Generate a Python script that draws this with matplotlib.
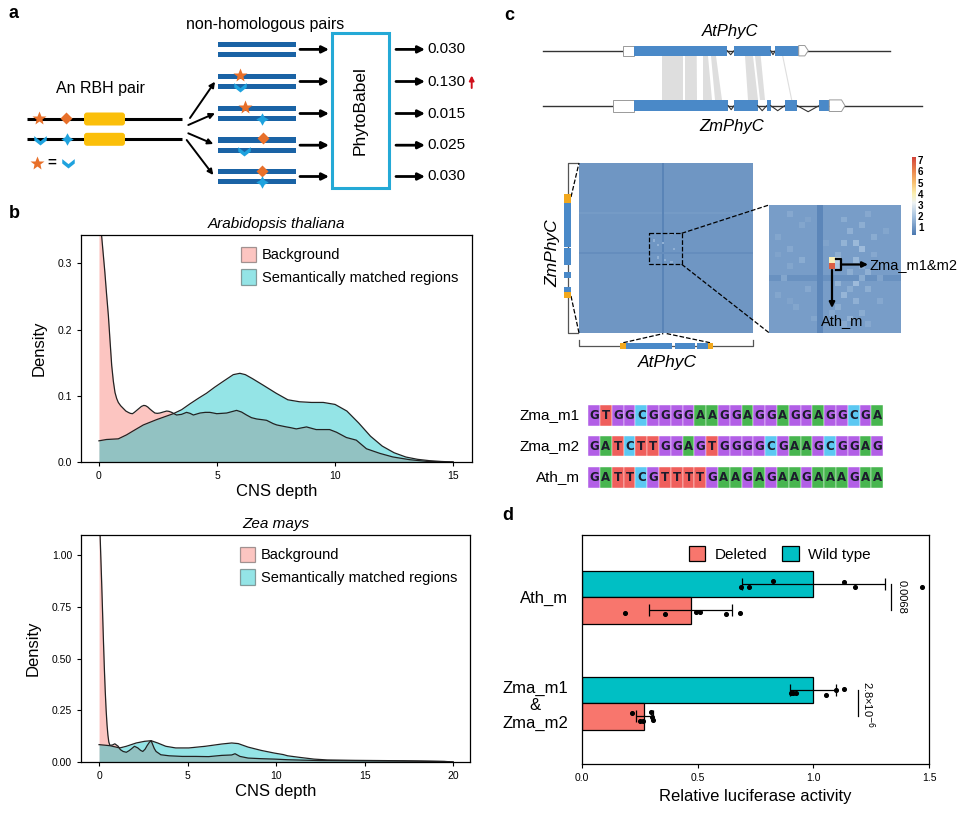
import numpy as np
import matplotlib.pyplot as plt
from matplotlib.patches import Rectangle, FancyBboxPatch, Polygon, Patch
from matplotlib.path import Path
from matplotlib.colors import LinearSegmentedColormap

plt.rcParams['font.family'] = ['Liberation Sans', 'DejaVu Sans']

# ---------------- data ----------------
# panel a: PhytoBabel scores of the five non-homologous pairs
pair_scores = ['0.030', '0.130', '0.015', '0.025', '0.030']

# panel b: density curves (Arabidopsis thaliana)
ath_bg_x = [0, 0.05, 0.11, 0.18, 0.25, 0.32, 0.4, 0.47, 0.54, 0.61, 0.68, 0.75, 0.82, 0.92,
            1.03, 1.14, 1.24, 1.33, 1.42, 1.5, 1.6, 1.7, 1.8, 1.9, 1.98, 2.07, 2.16, 2.26,
            2.37, 2.47, 2.58, 2.72, 2.87, 2.97, 3.08, 3.18, 3.29, 3.5, 3.71, 3.86, 4.0, 4.14,
            4.28, 4.5, 4.7, 4.85, 4.99, 5.2, 5.41, 5.62, 5.83, 6.04, 6.25, 6.46, 6.68, 6.9,
            7.1, 7.38, 7.53, 7.94, 8.1, 8.36, 8.79, 9.2, 9.77, 10.06, 10.48, 10.9, 11.33,
            11.9, 12.45, 13.16, 13.86, 14.7, 15.0]
ath_bg_y = [0.375, 0.36, 0.343, 0.315, 0.287, 0.255, 0.221, 0.183, 0.146, 0.122, 0.105, 0.096,
            0.090, 0.085, 0.081, 0.077, 0.075, 0.0735, 0.073, 0.075, 0.078, 0.081, 0.084,
            0.0855, 0.085, 0.083, 0.080, 0.077, 0.074, 0.0735, 0.074, 0.0755, 0.077, 0.0765,
            0.075, 0.073, 0.071, 0.072, 0.075, 0.0735, 0.071, 0.0725, 0.074, 0.075, 0.075,
            0.074, 0.073, 0.0735, 0.074, 0.076, 0.078, 0.0755, 0.071, 0.067, 0.065, 0.064,
            0.063, 0.058, 0.056, 0.053, 0.052, 0.050, 0.053, 0.049, 0.049, 0.045, 0.037,
            0.033, 0.020, 0.013, 0.0076, 0.0035, 0.001, 0.0, 0.0]
ath_sm_x = [0, 0.32, 0.82, 1.17, 1.45, 1.88, 2.44, 3.15, 3.5, 3.86, 4.2, 4.56, 4.9, 5.27, 5.69,
            5.97, 6.2, 6.5, 6.96, 7.5, 8.0, 8.5, 9.0, 9.5, 10.0, 10.5, 11.0, 11.5, 12.0, 12.5,
            13.0, 13.5, 14.0, 14.5, 15.0]
ath_sm_y = [0.032, 0.034, 0.035, 0.041, 0.047, 0.056, 0.064, 0.073, 0.079, 0.088, 0.096, 0.104,
            0.113, 0.122, 0.132, 0.134, 0.132, 0.126, 0.116, 0.104, 0.094, 0.091, 0.090, 0.090,
            0.087, 0.077, 0.059, 0.039, 0.024, 0.014, 0.0075, 0.004, 0.002, 0.0008, 0.0]

# panel b: Zea mays
zea_bg_x = [0, 0.05, 0.1, 0.15, 0.2, 0.25, 0.3, 0.35, 0.4, 0.45, 0.5, 0.55, 0.61, 0.75, 0.89,
            1.08, 1.2, 1.36, 1.54, 1.7, 1.82, 2.0, 2.19, 2.35, 2.47, 2.6, 2.72, 2.84, 2.94,
            3.03, 3.12, 3.22, 3.49, 3.96, 4.7, 5.45, 6.19, 6.93, 7.49, 7.68, 7.96, 8.42, 9.16,
            9.91, 10.65, 11.5, 12.5, 14.0, 16.0, 18.0, 19.5, 20.0]
zea_bg_y = [1.25, 1.12, 0.99, 0.86, 0.72, 0.58, 0.45, 0.34, 0.25, 0.18, 0.13, 0.097, 0.081,
            0.082, 0.088, 0.076, 0.060, 0.051, 0.047, 0.055, 0.063, 0.076, 0.068, 0.056, 0.051,
            0.062, 0.080, 0.095, 0.103, 0.084, 0.065, 0.051, 0.035, 0.030, 0.027, 0.027, 0.026,
            0.032, 0.034, 0.040, 0.027, 0.019, 0.016, 0.014, 0.011, 0.009, 0.007, 0.006, 0.005,
            0.004, 0.002, 0.0]
zea_sm_x = [0, 0.61, 1.17, 1.54, 2.1, 2.57, 2.94, 3.31, 3.77, 4.33, 5.07, 6.0, 6.93, 7.49,
            7.86, 8.42, 9.16, 9.91, 10.4, 10.65, 11.36, 12.14, 12.88, 14.4, 17.2, 19.5, 20.0]
zea_sm_y = [0.084, 0.079, 0.068, 0.076, 0.092, 0.100, 0.103, 0.092, 0.076, 0.068, 0.068, 0.076,
            0.087, 0.092, 0.089, 0.072, 0.056, 0.043, 0.036, 0.030, 0.022, 0.014, 0.010, 0.008,
            0.006, 0.003, 0.0]

# panel c: motif sequences
seq_names = ['Zma_m1', 'Zma_m2', 'Ath_m']
seqs = ['GTGGCGGGGAAGGAGGAGGAGGCGA',
        'GATCTTGGAGTGGGGCGAAGCGGAG',
        'GATTCGTTTTGAAGAGAAGAAAGAA']
base_colors = {'G': '#b25fe6', 'A': '#47b54f', 'T': '#ef5f5c', 'C': '#5cc8f2'}

# panel c: heatmap features (base level plus listed structure)
big_n = 80
big_base = 1.0
big_dark_cols = [38]
big_dark_rows = [42]
big_light_rows = [23]
big_light_cells = [(36, 34), (37, 38), (38, 36), (40, 43), (44, 36), (46, 42), (33, 42), (45, 39)]
zoom_n = 22
zoom_base = 1.15
zoom_dark_col = 8
zoom_dark_row = 12
zoom_light_cells = [(1, 3, 1.4), (2, 12, 1.5), (3, 5, 1.35), (3, 15, 1.55), (4, 13, 1.6),
                    (5, 1, 1.35), (5, 17, 1.5), (6, 12, 1.65), (6, 14, 1.8), (7, 3, 1.4),
                    (7, 15, 1.85), (8, 11, 1.55), (8, 17, 1.4), (9, 5, 1.5), (9, 14, 1.75),
                    (11, 13, 1.55), (11, 16, 1.6), (12, 2, 1.35), (12, 15, 1.5), (13, 11, 1.65),
                    (13, 14, 1.85), (14, 6, 1.4), (14, 16, 1.55), (15, 12, 1.7), (16, 14, 1.6),
                    (16, 18, 1.4), (17, 4, 1.35), (17, 11, 1.55), (18, 15, 1.5), (19, 7, 1.35),
                    (19, 13, 1.6), (20, 16, 1.4), (10, 3, 1.35), (4, 19, 1.35), (15, 1, 1.35),
                    (2, 6, 1.3), (6, 9, 1.3), (10, 15, 1.45), (14, 13, 1.5), (18, 10, 1.4),
                    (12, 18, 1.3), (16, 3, 1.3), (20, 12, 1.45), (1, 16, 1.4), (8, 1, 1.3)]
zoom_hot_cells = [(9, 10, 3.9), (10, 10, 6.8), (9, 11, 2.3), (10, 11, 2.1)]

# panel d: luciferase assay
groups = ['Zma_m1\n&\nZma_m2', 'Ath_m']
wt_mean = [1.0, 1.0]
wt_sd = [0.10, 0.31]
del_mean = [0.27, 0.47]
del_sd = [0.035, 0.18]
wt_pts = [[0.905, 0.912, 0.924, 1.056, 1.097, 1.133],
          [0.686, 0.722, 0.826, 1.133, 1.182, 1.468]]
wt_jit = [[-0.028, -0.028, -0.028, -0.047, 0.0, 0.003],
          [-0.033, -0.033, 0.024, 0.017, -0.033, -0.033]]
del_pts = [[0.218, 0.249, 0.262, 0.300, 0.304, 0.307],
           [0.186, 0.357, 0.491, 0.509, 0.624, 0.682]]
del_jit = [[0.027, -0.046, -0.046, 0.036, -0.002, -0.039],
           [-0.024, -0.033, -0.014, -0.014, -0.033, -0.024]]
p_values = ['2.8×10$^{-6}$', '0.0068']

PINK = '#F8766D'
CYAN = '#00BFC4'

W, H = 970, 815
fig = plt.figure(figsize=(9.7, 8.15), dpi=100)


def px_axes(l, t, r, b):
    return fig.add_axes([l / W, 1 - b / H, (r - l) / W, (b - t) / H])


def density_panel(ax, bx, by, sx, sy, title, xlim, ylim, xticks, yticks, ylabels):
    ax.fill_between(bx, by, color=PINK, alpha=0.42, lw=0)
    ax.plot(bx, by, color='#222222', lw=0.9)
    ax.fill_between(sx, sy, color=CYAN, alpha=0.42, lw=0)
    ax.plot(sx, sy, color='#222222', lw=0.9)
    ax.set_xlim(*xlim)
    ax.set_ylim(*ylim)
    ax.set_xticks(xticks)
    ax.set_yticks(yticks)
    ax.set_yticklabels(ylabels)
    ax.tick_params(direction='out', length=3, width=0.8, labelsize=7.5)
    for s in ax.spines.values():
        s.set_linewidth(0.9)
    ax.set_title(title, style='italic', fontsize=11, pad=5)
    ax.set_xlabel('CNS depth', fontsize=12, labelpad=2)
    ax.set_ylabel('Density', fontsize=12, labelpad=8)
    hs = [Patch(fc=PINK, alpha=0.42, ec='#222222', lw=0.9),
          Patch(fc=CYAN, alpha=0.42, ec='#222222', lw=0.9)]
    ax.legend(hs, ['Background', 'Semantically matched regions'], loc='upper left',
              bbox_to_anchor=(0.395, 0.975), frameon=False, fontsize=10.5,
              handlelength=1.0, handleheight=1.3, handletextpad=0.4, labelspacing=0.45,
              borderaxespad=0)


# ---------------- panel b ----------------
ax_b1 = px_axes(81, 235, 472, 462)
density_panel(ax_b1, ath_bg_x, ath_bg_y, ath_sm_x, ath_sm_y, 'Arabidopsis thaliana',
              (-0.76, 15.8), (0, 0.343), [0, 5, 10, 15], [0, 0.1, 0.2, 0.3],
              ['0.0', '0.1', '0.2', '0.3'])
ax_b2 = px_axes(81, 535, 470, 762)
density_panel(ax_b2, zea_bg_x, zea_bg_y, zea_sm_x, zea_sm_y, 'Zea mays',
              (-1.02, 20.95), (0, 1.098), [0, 5, 10, 15, 20], [0, 0.25, 0.5, 0.75, 1.0],
              ['0.00', '0.25', '0.50', '0.75', '1.00'])

# ---------------- panel d ----------------
ax_d = px_axes(582, 535, 929, 764)
ypos = np.arange(len(groups))
bh = 0.25
ax_d.barh(ypos + bh / 2, wt_mean, height=bh, color=CYAN, ec='black', lw=0.9)
ax_d.barh(ypos - bh / 2, del_mean, height=bh, color=PINK, ec='black', lw=0.9)
ax_d.errorbar(wt_mean, ypos + bh / 2, xerr=wt_sd, fmt='none', ecolor='black', elinewidth=0.9,
              capsize=4, capthick=0.9)
ax_d.errorbar(del_mean, ypos - bh / 2, xerr=del_sd, fmt='none', ecolor='black',
              elinewidth=0.9, capsize=4, capthick=0.9)
for i in range(len(groups)):
    ax_d.scatter(wt_pts[i], ypos[i] + bh / 2 + np.array(wt_jit[i]), s=7, color='black',
                 zorder=4)
    ax_d.scatter(del_pts[i], ypos[i] - bh / 2 + np.array(del_jit[i]), s=7, color='black',
                 zorder=4)
    xl = [1.193, 1.337][i]
    ax_d.plot([xl, xl], [ypos[i] - bh / 2, ypos[i] + bh / 2], color='black', lw=0.9)
    ax_d.text(xl + 0.043, ypos[i] - (0.02 if i == 0 else 0), p_values[i], rotation=-90,
              ha='center', va='center', fontsize=8)
ax_d.set_xlim(0, 1.5)
ax_d.set_ylim(-0.575, 1.585)
ax_d.set_xticks([0, 0.5, 1.0, 1.5])
ax_d.set_xticklabels(['0.0', '0.5', '1.0', '1.5'])
ax_d.set_yticks(ypos)
ax_d.set_yticklabels(groups)
for t in ax_d.get_yticklabels():
    t.set_multialignment('center')
ax_d.tick_params(axis='x', direction='out', length=3, width=0.8, labelsize=7.5)
ax_d.tick_params(axis='y', length=0, labelsize=12, pad=10)
for s in ax_d.spines.values():
    s.set_linewidth(0.9)
ax_d.set_xlabel('Relative luciferase activity', fontsize=12, labelpad=4)
ax_d.legend([Patch(fc=PINK, ec='black', lw=0.9), Patch(fc=CYAN, ec='black', lw=0.9)],
            ['Deleted', 'Wild type'], loc='upper center', bbox_to_anchor=(0.57, 0.99),
            ncol=2, frameon=False, fontsize=11, handlelength=1.1, handleheight=1.1,
            handletextpad=0.6, columnspacing=1.0, borderaxespad=0.2)

# ---------------- panel c heatmaps ----------------
cmap = LinearSegmentedColormap.from_list('motif', [
    (0.0, '#4a78b0'), (1.7 / 7, '#a7c3e0'), (2.9 / 7, '#eef2f2'), (3.7 / 7, '#fbf0b0'),
    (4.7 / 7, '#f8c070'), (5.7 / 7, '#ec8a50'), (1.0, '#d2443a')])
vmin, vmax = 0.3, 7.3

big = np.full((big_n, big_n), big_base)
for r in big_light_rows:
    big[r, :] = 1.1
for c in big_dark_cols:
    big[:, c] = 0.6
for r in big_dark_rows:
    big[r, :] = 0.8
for r, c in big_light_cells:
    big[r, c] = 1.6
ax_h1 = px_axes(579, 163, 753, 333)
ax_h1.imshow(big, cmap=cmap, vmin=vmin, vmax=vmax, aspect='auto', interpolation='nearest')
ax_h1.axis('off')

zm = np.full((zoom_n, zoom_n), zoom_base)
zm[zoom_dark_row, :] = 0.9
zm[:, zoom_dark_col] = 0.65
for r, c, v in zoom_light_cells + zoom_hot_cells:
    zm[r, c] = v
ax_h2 = px_axes(769, 205, 901, 333)
im = ax_h2.imshow(zm, cmap=cmap, vmin=vmin, vmax=vmax, aspect='auto', interpolation='nearest')
ax_h2.axis('off')

cax = px_axes(912, 157, 916, 235)
cb = fig.colorbar(im, cax=cax, ticks=[1, 2, 3, 4, 5, 6, 7])
cb.outline.set_visible(False)
cax.tick_params(length=0, labelsize=7, pad=1.5)
for t in cax.get_yticklabels():
    t.set_fontweight('bold')

# ---------------- overlay for diagrams ----------------
ov = fig.add_axes([0, 0, 1, 1], zorder=5)
ov.set_xlim(0, W)
ov.set_ylim(H, 0)
ov.axis('off')
ov.patch.set_alpha(0)

for lab, (x, y) in zip('abcd', [(14, 14), (14, 214), (509, 15), (508, 516)]):
    ov.text(x, y, lab, fontsize=13, fontweight='bold', ha='center', va='center')

ORANGE = '#e8702a'
SKY = '#1ea2de'
chev = Path([(-1, 0.7), (0, -0.1), (1, 0.7), (1, 0.0), (0, -0.8), (-1, 0.0), (-1, 0.7)],
            [Path.MOVETO] + [Path.LINETO] * 5 + [Path.CLOSEPOLY])


def sym(x, y, kind, size=1.0):
    if kind == 'star':
        ov.plot(x, y, marker='*', color=ORANGE, ms=10 * size, mec='none')
    elif kind == 'diamond':
        ov.plot(x, y, marker='D', color=ORANGE, ms=6.5 * size, mec='none')
    elif kind == 'chev':
        ov.plot(x, y, marker=chev, color=SKY, ms=9 * size, mec='none')
    else:
        ov.plot(x, y, marker=(4, 1, 0), color=SKY, ms=9 * size, mec='none')


# panel a
ov.text(100, 89, 'An RBH pair', fontsize=11.5, ha='center', va='center')
for y in [119, 139.3]:
    ov.plot([27, 182], [y, y], color='black', lw=2.2, solid_capstyle='butt')
    ov.add_patch(FancyBboxPatch((84, y - 6.5), 41, 13, boxstyle='round,pad=0,rounding_size=3',
                                fc='#fbbf0a', ec='none', zorder=3))
sym(39.3, 118.3, 'star')
sym(66, 118.3, 'diamond')
sym(40, 139.5, 'chev')
sym(66.7, 139.3, 'bstar')
sym(36.7, 162.7, 'star')
ov.text(51.7, 163, '=', fontsize=11, fontweight='bold', ha='center', va='center')
sym(68.3, 162.7, 'chev')

for (x0, y0), (x1, y1) in [((190, 118), (215, 81.7)), ((188.3, 125), (215, 113.3)),
                           ((188.3, 133.3), (213.3, 144)), ((186.7, 140), (213.3, 175))]:
    ov.annotate('', xy=(x1, y1), xytext=(x0, y0),
                arrowprops=dict(arrowstyle='-|>', color='black', lw=1.4, mutation_scale=8,
                                shrinkA=0, shrinkB=0))

ov.text(265, 25, 'non-homologous pairs', fontsize=11.5, ha='center', va='center')
pair_top = [44.2, 76.3, 108.3, 140, 171.3]
for i, yt in enumerate(pair_top):
    for yy in [yt, yt + 10.4]:
        ov.add_patch(Rectangle((218.3, yy - 2.6), 77.7, 5.2, fc='#1a63a5', ec='none'))
    yc = yt + 5.2
    for xa, xb in [(300, 329), (396, 425)]:
        ov.annotate('', xy=(xb, yc), xytext=(xa, yc),
                    arrowprops=dict(arrowstyle='-|>', color='black', lw=2.0, mutation_scale=10,
                                    shrinkA=0, shrinkB=0))
    ov.text(427, yc, pair_scores[i], fontsize=11, ha='left', va='center')
sym(240, 75, 'star')
sym(240, 86.5, 'chev')
sym(245, 106.7, 'star')
sym(261.7, 118.5, 'bstar')
sym(263.3, 138.3, 'diamond')
sym(244.3, 150.5, 'chev')
sym(261.7, 171, 'diamond')
sym(262.3, 182.3, 'bstar')
ov.annotate('', xy=(471.7, 75.5), xytext=(471.7, 88),
            arrowprops=dict(arrowstyle='-|>', color='#d0101b', lw=1.4, mutation_scale=7,
                            shrinkA=0, shrinkB=0))
ov.add_patch(Rectangle((331.7, 33.3), 57.6, 155, fill=False, ec='#24a9d6', lw=2.2))
ov.text(360.5, 110.8, 'PhytoBabel', fontsize=12.5, rotation=90, ha='center', va='center')

# panel c: gene structures
GB = '#4a89c8'


def exon(x0, x1, yc, h, fc=GB):
    ov.add_patch(Rectangle((x0, yc - h), x1 - x0, 2 * h, fc=fc, ec='none', zorder=3))


def utr(x0, x1, yc, h, pointed):
    if pointed:
        pts = [(x0, yc - h), (x1 - 3.5, yc - h), (x1, yc), (x1 - 3.5, yc + h), (x0, yc + h)]
    else:
        pts = [(x0, yc - h), (x1, yc - h), (x1, yc + h), (x0, yc + h)]
    ov.add_patch(Polygon(pts, closed=True, fc='white', ec='#9a9a9a', lw=0.7, zorder=3))


def intron(x0, x1, yc, dip):
    ov.plot([x0, (x0 + x1) / 2, x1], [yc, yc + dip, yc], color='#333333', lw=0.8, zorder=3)


# grey links between the two genes
for t0, t1, b0, b1 in [(661.7, 683.3, 661.7, 683.3), (685, 696.7, 685, 697), (703, 708, 703, 712),
                       (711, 716, 715, 722), (745, 753, 748, 758), (755, 760.7, 760, 765)]:
    ov.add_patch(Polygon([(t0, 56), (t1, 56), (b1, 100), (b0, 100)], closed=True,
                         fc='#dedede', ec='none', zorder=2))
ov.plot([782.7, 791.7], [56, 100], color='#dedede', lw=0.8, zorder=2)

ya, yz = 50.7, 105.7
ov.plot([542.7, 890], [ya, ya], color='#333333', lw=1.0, zorder=2)
utr(623.3, 634, ya, 5.2, False)
exon(634, 727.3, ya, 5.2)
intron(727.3, 734, ya, 4)
exon(734, 770.7, ya, 5.2)
intron(770.7, 775.3, ya, 4)
exon(775.3, 798.7, ya, 5.2)
utr(798.7, 808.3, ya, 5.2, True)
ov.text(730, 31.7, 'AtPhyC', style='italic', fontsize=12, ha='center', va='center')

ov.plot([542.7, 922.3], [yz, yz], color='#333333', lw=1.0, zorder=2)
utr(612.7, 634, yz, 5.8, False)
exon(634, 728.3, yz, 5.8)
intron(728.3, 734, yz, 4)
exon(734, 757.7, yz, 5.8)
intron(757.7, 766.7, yz, 5)
exon(766.7, 770.7, yz, 5.8)
intron(770.7, 784.7, yz, 5)
exon(784.7, 797.3, yz, 5.8)
intron(797.3, 819, yz, 6)
exon(819, 829.3, yz, 5.8)
utr(829.3, 845, yz, 5.8, True)
ov.text(731.7, 126.7, 'ZmPhyC', style='italic', fontsize=12, ha='center', va='center')

# heatmap surroundings
GOLD = '#f2a81d'
ov.plot([577.7, 567.7, 567.7, 577.7], [162.7, 162.7, 333.3, 333.3], color='#555555', lw=0.9)
for y0, y1, c in [(194, 203, GOLD), (203, 247, GB), (248, 265, GB), (272, 277.7, GB),
                  (286.7, 291.7, GB), (291.7, 298.3, GOLD)]:
    ov.add_patch(Rectangle((564, y0), 7, y1 - y0, fc=c, ec='none', zorder=3))
ov.plot([571, 579], [197, 163], color='black', lw=0.9, ls='--')
ov.plot([571, 579], [296, 333], color='black', lw=0.9, ls='--')
ov.text(553, 253, 'ZmPhyC', style='italic', fontsize=12.5, rotation=90, ha='center',
        va='center')

for x0, x1, c in [(620, 625.7, GOLD), (625.7, 671.7, GB), (675, 695, GB), (697, 708, GB),
                  (708, 712.7, GOLD)]:
    ov.add_patch(Rectangle((x0, 342.7), x1 - x0, 6.6, fc=c, ec='none', zorder=3))
ov.plot([579, 579, 753, 753], [339.5, 346, 346, 339.5], color='#555555', lw=0.9, zorder=1)
ov.plot([623.3, 663.3], [342.7, 333.6], color='black', lw=0.9, ls='--')
ov.plot([710, 666.7], [342.7, 333.6], color='black', lw=0.9, ls='--')
ov.text(667, 363, 'AtPhyC', style='italic', fontsize=12.5, ha='center', va='center')

ov.add_patch(Rectangle((649.3, 233.3), 32.4, 31, fill=False, ec='black', lw=0.9, ls='--'))
ov.plot([681.7, 769], [233.3, 205], color='black', lw=0.9, ls='--')
ov.plot([681.7, 769], [264.3, 332.7], color='black', lw=0.9, ls='--')

# zoomed annotation
ov.plot([836, 841, 841, 836], [259, 259, 270, 270], color='black', lw=1.6)
ov.annotate('', xy=(868, 264.5), xytext=(841, 264.5),
            arrowprops=dict(arrowstyle='-|>', color='black', lw=1.6, mutation_scale=8,
                            shrinkA=0, shrinkB=0))
ov.text(870, 265, 'Zma_m1&m2', fontsize=10.5, ha='left', va='center')
ov.annotate('', xy=(832, 308), xytext=(832, 270),
            arrowprops=dict(arrowstyle='-|>', color='black', lw=1.6, mutation_scale=8,
                            shrinkA=0, shrinkB=0))
ov.text(842, 321, 'Ath_m', fontsize=10.5, ha='center', va='center')

# sequence logos
cw, ch = 11.8, 20.5
for row, (name, s) in enumerate(zip(seq_names, seqs)):
    yc = [415.3, 445.8, 477.3][row]
    ov.text(580, yc, name, fontsize=11, ha='right', va='center')
    for k, b in enumerate(s):
        x0 = 588.3 + k * cw
        ov.add_patch(Rectangle((x0, yc - ch / 2), cw, ch, fc=base_colors[b], ec='white',
                               lw=0.3))
        ov.text(x0 + cw / 2, yc + 0.5, b, fontsize=8.5, fontweight='bold', color='#1c1c2c',
                ha='center', va='center', family='DejaVu Sans')

fig.savefig('out.png', dpi=100)
